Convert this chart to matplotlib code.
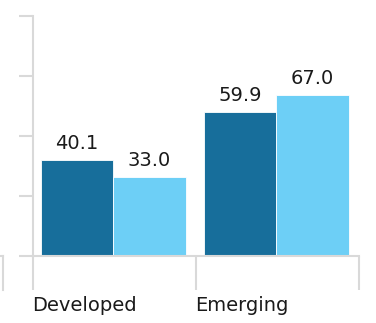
import matplotlib.pyplot as plt
from matplotlib.lines import Line2D
import numpy as np

# Data
categories = ["Developed", "Emerging"]
series_a = [40.1, 59.9]
series_b = [33.0, 67.0]
y_ticks = [0, 25, 50, 75, 100]

dark = "#176e9b"
light = "#6dcff6"
grid_grey = "#d9d9d9"

fig = plt.figure(figsize=(3.76, 3.23), dpi=100)
ax = fig.add_axes([33 / 376, 67 / 323, 326 / 376, 240 / 323])

x = np.arange(len(categories)) - 0.008
w = 0.445
ax.bar(x - w / 2, series_a, w, color=dark, edgecolor="white", linewidth=0.6)
ax.bar(x + w / 2, series_b, w, color=light, edgecolor="white", linewidth=0.6)

# value labels
for xs, vals in [(x - w / 2, series_a), (x + w / 2, series_b)]:
    for xi, v in zip(xs, vals):
        ax.annotate(f"{v:.1f}", xy=(xi, v), xytext=(0, 8), textcoords="offset points",
                    ha="center", va="baseline", fontsize=14, color="#1a1a1a")

ax.set_xlim(-0.5, len(categories) - 0.5)
ax.set_ylim(0, 100)
ax.set_yticks(y_ticks)
ax.set_yticklabels([])
ax.set_xticks(np.arange(len(categories) + 1) - 0.5)
ax.set_xticklabels([])
ax.tick_params(axis="y", length=10, width=1.5, color=grid_grey, direction="out")
ax.tick_params(axis="x", length=24.5, width=1.5, color=grid_grey, direction="out")

for side in ["top", "right"]:
    ax.spines[side].set_visible(False)
for side in ["left", "bottom"]:
    ax.spines[side].set_color(grid_grey)
    ax.spines[side].set_linewidth(1.5)

# category names, left-aligned at each group's start
for i, name in enumerate(categories):
    ax.annotate(name, xy=(i - 0.5, 0), xycoords=("data", "axes fraction"),
                xytext=(-0.5, -39.5), textcoords="offset points",
                ha="left", va="baseline", fontsize=14, color="#1a1a1a")

# edge of the neighbouring panel on the left
fig.add_artist(Line2D([0, 3 / 376], [67 / 323, 67 / 323], color=grid_grey, lw=1.5))
fig.add_artist(Line2D([3 / 376, 3 / 376], [33 / 323, 67 / 323], color=grid_grey, lw=1.5))

fig.savefig("out.png", dpi=100)
